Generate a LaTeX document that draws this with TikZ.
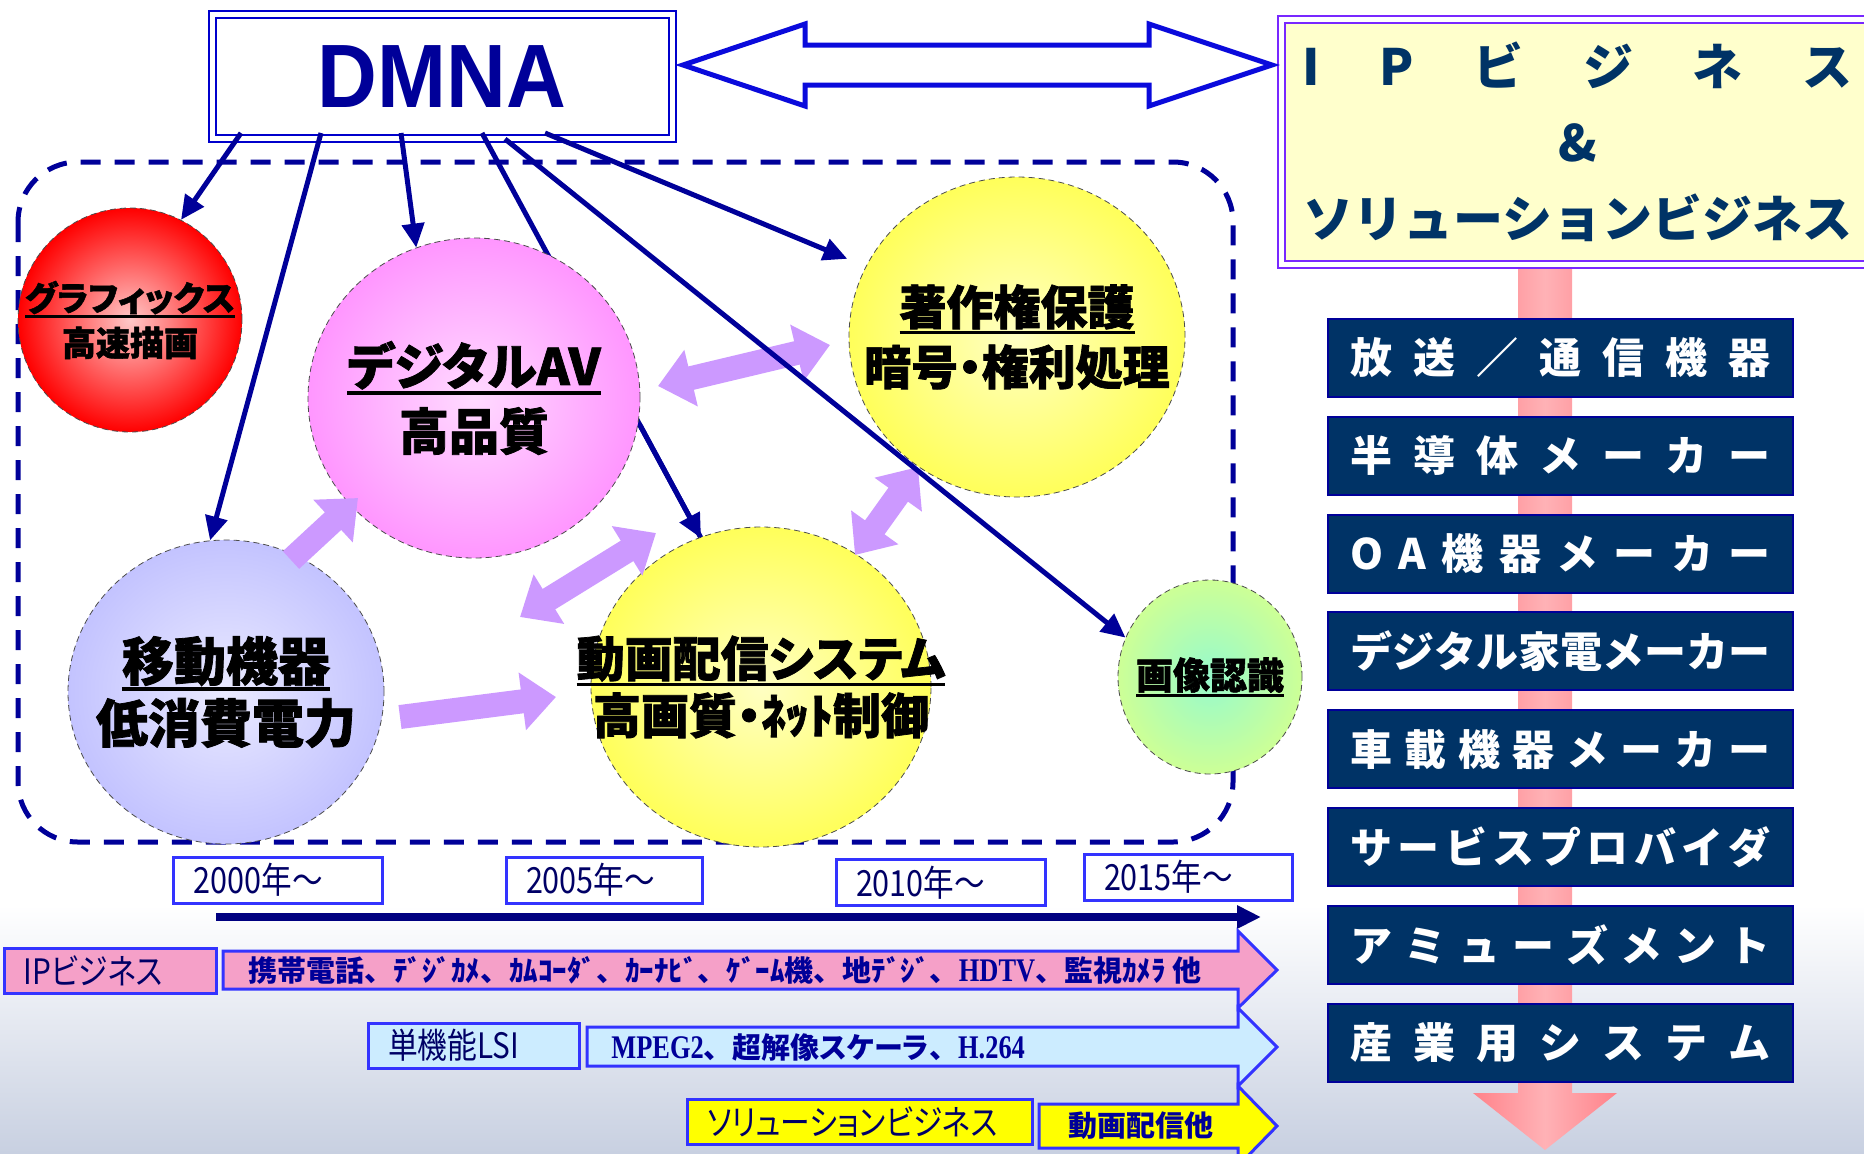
\documentclass[tikz,border=0pt]{standalone}
\usepackage{fontspec}
\usetikzlibrary{positioning}
\usetikzlibrary{shapes.geometric}
\usetikzlibrary{arrows.meta}
\usetikzlibrary{calc}

\newfontfamily\jpfont{Noto Sans CJK JP}
\newfontfamily\jppfont{Noto Sans CJK JP}[RawFeature=+palt]
\newfontfamily\jphfont{Noto Sans CJK JP}[RawFeature=+palt,BoldFeatures={FakeBold=1.5}]
\newfontfamily\jpnfont{Noto Sans CJK JP}[RawFeature=+palt,FakeStretch=0.85]
\newfontfamily\dmnafont{Liberation Sans}[FakeStretch=0.92]
\newfontfamily\romfont{Liberation Serif}[FakeStretch=0.8]

\definecolor{navyline}{RGB}{0,0,153}
\definecolor{dmnaline}{RGB}{0,0,204}
\definecolor{hollowblue}{RGB}{10,10,220}
\definecolor{ipline}{RGB}{120,40,255}
\definecolor{ipfill}{RGB}{255,255,204}
\definecolor{iptext}{RGB}{0,51,102}
\definecolor{rownavy}{RGB}{0,51,102}
\definecolor{rowline}{RGB}{0,0,153}
\definecolor{pinkl}{RGB}{255,178,182}
\definecolor{pinkd}{RGB}{255,130,138}
\definecolor{lav}{RGB}{204,153,255}
\definecolor{gfxin}{RGB}{255,200,200}
\definecolor{gfxout}{RGB}{255,0,0}
\definecolor{avin}{RGB}{255,218,255}
\definecolor{avout}{RGB}{255,150,255}
\definecolor{yin}{RGB}{255,255,195}
\definecolor{yout}{RGB}{255,255,90}
\definecolor{mobin}{RGB}{234,234,255}
\definecolor{mobout}{RGB}{195,195,255}
\definecolor{imgin}{RGB}{150,250,205}
\definecolor{imgout}{RGB}{205,255,150}
\definecolor{bandline}{RGB}{51,51,255}
\definecolor{ipband}{RGB}{245,160,200}
\definecolor{lsiband}{RGB}{204,236,255}
\definecolor{solband}{RGB}{255,255,0}
\definecolor{yeartext}{RGB}{0,0,102}
\definecolor{btext}{RGB}{0,0,153}
\definecolor{tline}{RGB}{0,0,128}
\definecolor{bgblue}{RGB}{200,208,225}

\newsavebox\undlbox
\newcommand{\undl}[1]{\leavevmode\sbox\undlbox{#1}\rlap{\vrule width\wd\undlbox height -.13em depth .2em}\usebox\undlbox}
\newcommand{\romtxt}[1]{{\romfont\fontsize{16.5pt}{17pt}\selectfont #1}}

\begin{document}
\begin{tikzpicture}[x=0.5pt,y=-0.5pt,
	navyarr/.style={color=navyline,line width=2.5pt,-{Triangle[length=12pt,width=11pt]}},
	lavarr/.style={draw=lav,line width=12pt,-{Triangle[length=17pt,width=28pt]}},
	lavdbl/.style={draw=lav,line width=12pt,{Triangle[length=17pt,width=28pt]}-{Triangle[length=17pt,width=28pt]}},
	bubble/.style n args={4}{ellipse,inner sep=0pt,draw=black!70,line width=0.4pt,densely dashed,minimum width=#1,minimum height=#2,inner color=#3,outer color=#4},
	bubtext/.style={align=center,text=black,inner sep=0pt},
	rowbox/.style={draw=rowline,fill=rownavy,line width=1pt,minimum width=232.5pt,minimum height=39pt,inner sep=0pt,text=white,font=\jpfont\bfseries\fontsize{21pt}{25pt}\selectfont},
	yearbox/.style={draw=bandline,fill=white,line width=1.5pt,minimum height=23pt,inner xsep=10pt,inner ysep=0pt,text width=#1,align=left,text=yeartext,font=\jpnfont\fontsize{18pt}{19pt}\selectfont},
	bandlabel/.style 2 args={draw=bandline,fill=#2,line width=1.5pt,minimum height=22.5pt,inner xsep=10pt,inner ysep=0pt,text width=#1,align=left,text=yeartext,font=\jpnfont\fontsize{17.5pt}{19pt}\selectfont},
	bandarrow/.style={draw=bandline,line width=1.5pt,line join=miter},
	bandtext/.style={anchor=west,inner sep=0pt,text=btext,font=\jpfont\bfseries\fontsize{14.5pt}{17pt}\selectfont}]

	\useasboundingbox (0,0) rectangle (1864,1153);
	\fill[white] (0,0) rectangle (1864,1153);
	\shade[top color=white,bottom color=bgblue] (0,905) rectangle (1864,1153);

	\draw[navyline,line width=2.5pt,dash pattern=on 10pt off 7pt,rounded corners=30pt] (18,162) rectangle (1233,842);

	\shade[left color=pinkd,right color=pinkd,middle color=pinkl] (1518,262) -- (1572,262) -- (1572,1093) -- (1617,1093) -- (1545,1150) -- (1473,1093) -- (1518,1093) -- cycle;

	\node[draw=dmnaline,double=white,double distance=2.5pt,line width=1pt,minimum width=230pt,minimum height=62pt,inner sep=0pt,text=navyline,font=\dmnafont\bfseries\fontsize{45pt}{50pt}\selectfont] (DMNA) at (442,76.5) {DMNA};
	\node[draw=ipline,double=white,double distance=2.5pt,line width=1pt,fill=ipfill,minimum width=296pt,minimum height=122.5pt,inner sep=0pt,align=center,text=iptext,font=\jpfont\bfseries\fontsize{25pt}{38pt}\selectfont] (IPS) at (1577.5,142) {\hbox to 275pt{I\hfill P\hfill ビ\hfill ジ\hfill ネ\hfill ス}\\\&\\ソリューションビジネス};

	\draw[draw=hollowblue,line width=2.5pt,line join=miter,fill=white] (683,65) -- (805,24) -- (805,45) -- (1149,45) -- (1149,24) -- (1272,65) -- (1149,106) -- (1149,85) -- (805,85) -- (805,106) -- cycle;

	\node[rowbox] (B1) at (1560.5,358) {\hbox to 210pt{放\hfill 送\hfill ／\hfill 通\hfill 信\hfill 機\hfill 器}};
	\node[rowbox,below=8.9pt of B1] (B2) {\hbox to 210pt{半\hfill 導\hfill 体\hfill メ\hfill ー\hfill カ\hfill ー}};
	\node[rowbox,below=8.9pt of B2] (B3) {\hbox to 210pt{O\hfill A\hfill 機\hfill 器\hfill メ\hfill ー\hfill カ\hfill ー}};
	\node[rowbox,below=8.9pt of B3] (B4) {\hbox to 210pt{デ\hfill ジ\hfill タ\hfill ル\hfill 家\hfill 電\hfill メ\hfill ー\hfill カ\hfill ー}};
	\node[rowbox,below=8.9pt of B4] (B5) {\hbox to 210pt{車\hfill 載\hfill 機\hfill 器\hfill メ\hfill ー\hfill カ\hfill ー}};
	\node[rowbox,below=8.9pt of B5] (B6) {\hbox to 210pt{サ\hfill ー\hfill ビ\hfill ス\hfill プ\hfill ロ\hfill バ\hfill イ\hfill ダ}};
	\node[rowbox,below=8.9pt of B6] (B7) {\hbox to 210pt{ア\hfill ミ\hfill ュ\hfill ー\hfill ズ\hfill メ\hfill ン\hfill ト}};
	\node[rowbox,below=8.9pt of B7] (B8) {\hbox to 210pt{産\hfill 業\hfill 用\hfill シ\hfill ス\hfill テ\hfill ム}};

	\node[yearbox=84.5pt] (Y0) at (278,880) {2000年～};
	\node[yearbox=78pt] (Y1) at (604,880) {2005年～};
	\node[yearbox=84.5pt] (Y2) at (940.5,882.5) {2010年～};
	\node[yearbox=84pt] (Y3) at (1188,877) {2015年～};

	\coordinate (T0) at (216,917);
	\coordinate (T1) at (1261,917);
	\draw[draw=tline,line width=4pt,-{Triangle[length=12pt,width=11pt]}] (T0) -- (T1);

	\draw[bandarrow,fill=ipband] (223,951) -- (1238,951) -- (1238,931) -- (1277,970) -- (1238,1008) -- (1238,989) -- (223,989) -- cycle;
	\draw[bandarrow,fill=lsiband] (587,1027) -- (1238,1027) -- (1238,1008) -- (1277,1047) -- (1238,1086) -- (1238,1066) -- (587,1066) -- cycle;
	\draw[bandarrow,fill=solband] (1039,1104) -- (1238,1104) -- (1238,1086) -- (1277,1126) -- (1238,1166) -- (1238,1148) -- (1039,1148) -- cycle;

	\node[bandlabel={86pt}{ipband}] (IPL) at (110,970.5) {IPビジネス};
	\node[bandlabel={85.5pt}{lsiband}] (LSIL) at (473.5,1045.5) {単機能LSI};
	\node[bandlabel={152.5pt}{solband}] (SOLL) at (859.5,1122) {ソリューションビジネス};

	\node[bandtext] (IPT) at (248,970) {携帯電話、ﾃﾞｼﾞｶﾒ、ｶﾑｺｰﾀﾞ、ｶｰﾅﾋﾞ、ｹﾞｰﾑ機、地ﾃﾞｼﾞ、\romtxt{HDTV}、監視ｶﾒﾗ 他};
	\node[bandtext] (LSIT) at (611,1047) {\romtxt{MPEG2}、超解像{\jppfont\bfseries スケーラ}、\romtxt{H.264}};
	\node[bandtext] (SOLT) at (1068,1126) {動画配信他};

	\coordinate (D1) at (241,133);
	\coordinate (D2) at (321,133);
	\coordinate (D3) at (401,133);
	\coordinate (D4) at (482,133);
	\coordinate (D5) at (505,139);
	\coordinate (D6) at (545,133);
	\coordinate (V4) at (701,538);
	\draw[navyline,line width=2.5pt] (D4) -- (V4);

	\node[bubble={112pt}{112pt}{gfxin}{gfxout}] (GFX) at (130,320) {};
	\node[bubble={166pt}{160pt}{avin}{avout}] (AV) at (474,398) {};
	\node[bubble={168pt}{160pt}{yin}{yout}] (CPR) at (1017,337) {};
	\node[bubble={158pt}{152pt}{mobin}{mobout}] (MOB) at (226,692) {};
	\node[bubble={170pt}{160pt}{yin}{yout}] (VID) at (761,687) {};
	\node[bubble={92pt}{97pt}{imgin}{imgout}] (IMG) at (1210,677) {};

	\node[bubtext,font=\jphfont\bfseries\fontsize{17pt}{22.5pt}\selectfont] (GFXt) at (GFX) {\undl{グラフィックス}\\高速描画};
	\node[bubtext,font=\jphfont\bfseries\fontsize{25pt}{32.5pt}\selectfont] (AVt) at (AV) {\undl{デジタルAV}\\高品質};
	\node[bubtext,font=\jphfont\bfseries\fontsize{23.5pt}{30pt}\selectfont] (CPRt) at (CPR) {\undl{著作権保護}\\暗号・権利処理};
	\node[bubtext,font=\jphfont\bfseries\fontsize{26pt}{31pt}\selectfont] (MOBt) at (MOB) {\undl{移動機器}\\低消費電力};
	\node[bubtext,font=\jphfont\bfseries\fontsize{24pt}{28.5pt}\selectfont] (VIDt) at (VID) {\undl{動画配信システム}\\高画質・ﾈｯﾄ制御};
	\node[bubtext,font=\jphfont\bfseries\fontsize{18.5pt}{22pt}\selectfont] (IMGt) at (IMG) {\undl{画像認識}};

	\coordinate (L1a) at (291,560);
	\coordinate (L1b) at (358,498);
	\coordinate (L2a) at (658,386);
	\coordinate (L2b) at (830,345);
	\coordinate (L3a) at (400,717);
	\coordinate (L3b) at (556,697);
	\coordinate (L4a) at (520,617);
	\coordinate (L4b) at (656,533);
	\coordinate (L5a) at (855,555);
	\coordinate (L5b) at (918,467);
	\draw[lavarr] (L1a) -- (L1b);
	\draw[lavarr] (L3a) -- (L3b);
	\draw[lavdbl] (L2a) -- (L2b);
	\draw[lavdbl] (L4a) -- (L4b);
	\draw[lavdbl] (L5a) -- (L5b);

	\path[navyarr] (D1) edge (GFX.63)
			(D2) edge (MOB.96)
			(D3) edge (AV.111)
			($(D4)!0.72!(V4)$) edge (V4)
			(D5) edge (IMG.155)
			(D6) edge[shorten >=10pt] (CPR.155);
\end{tikzpicture}
\end{document}
